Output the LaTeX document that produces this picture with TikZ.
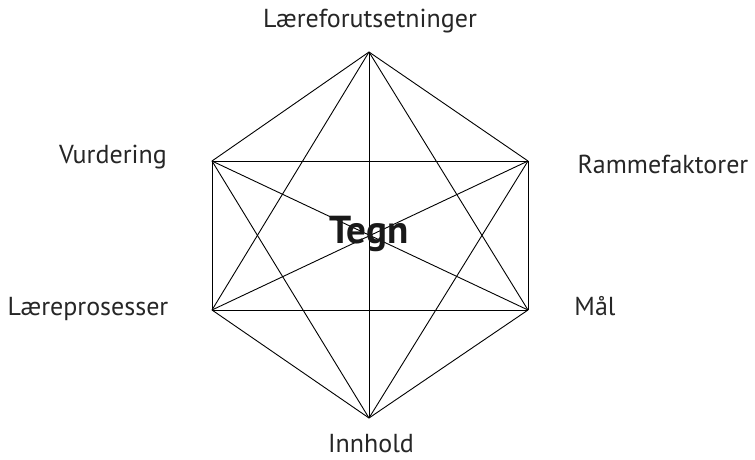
\documentclass[tikz,border=0pt]{standalone}
\usepackage{fontspec}
\setmainfont{PT Sans}
\begin{document}
\begin{tikzpicture}[x=1pt,y=-1pt,
  edge/.style={draw=black,line width=0.9pt},
  lbl/.style={inner sep=0pt,anchor=base,font=\fontsize{26}{30}\selectfont,text=black!85},
  ctr/.style={inner sep=0pt,anchor=base,font=\fontsize{39}{44}\selectfont\bfseries,text=black!90}]
\useasboundingbox (0,0) rectangle (755,459);
\coordinate (T) at (369,52);
\coordinate (UR) at (528,161);
\coordinate (LR) at (528,310);
\coordinate (B) at (369,418);
\coordinate (LL) at (212,310);
\coordinate (UL) at (212,161);
\foreach \a/\b in {T/UR,T/LR,T/B,T/LL,T/UL,UR/LR,UR/B,UR/LL,UR/UL,LR/B,LR/LL,LR/UL,B/LL,B/UL,LL/UL}
  \draw[edge] (\a) -- (\b);
\node[lbl] (l1) at (370,27) {Læreforutsetninger};
\node[lbl] (l2) at (663,173) {Rammefaktorer};
\node[lbl] (l3) at (595,315) {Mål};
\node[lbl] (l4) at (371,452) {Innhold};
\node[lbl] (l5) at (88,315) {Læreprosesser};
\node[lbl] (l6) at (113,163) {Vurdering};
\node[ctr] (c) at (369,243) {Tegn};
\end{tikzpicture}
\end{document}
